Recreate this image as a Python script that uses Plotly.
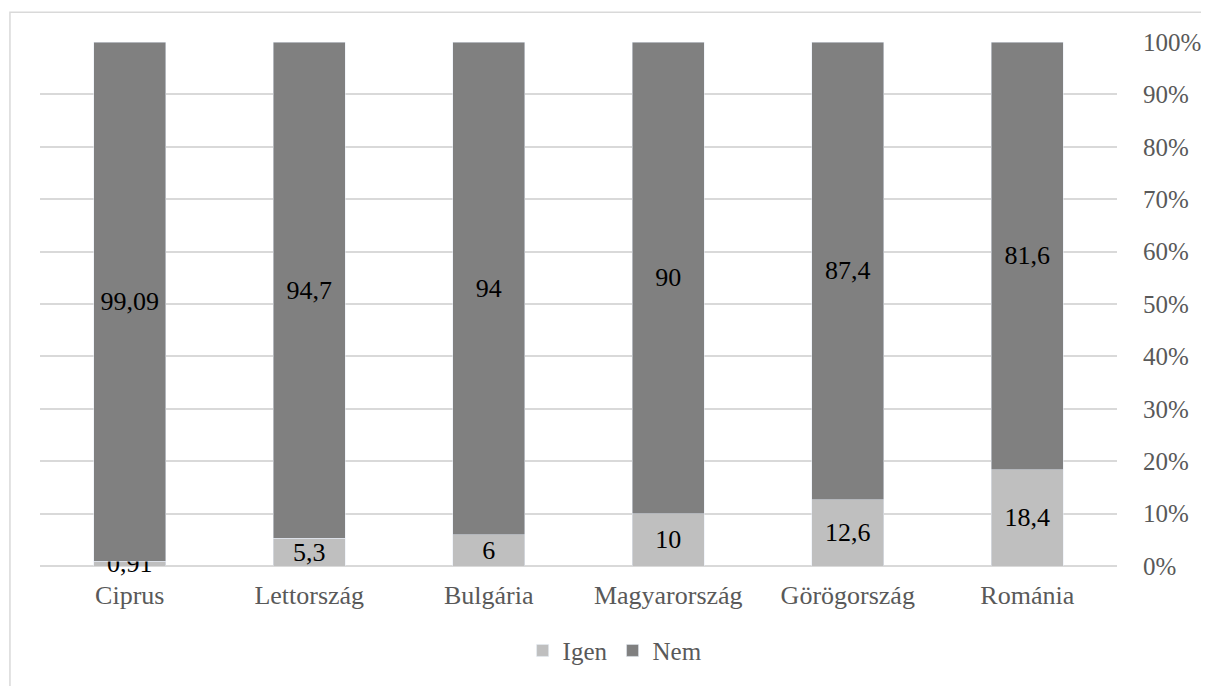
import plotly.graph_objects as go

categories = ["Ciprus", "Lettország", "Bulgária", "Magyarország", "Görögország", "Románia"]
igen = [0.91, 5.3, 6, 10, 12.6, 18.4]
nem = [99.09, 94.7, 94, 90, 87.4, 81.6]
tick_vals = [0, 10, 20, 30, 40, 50, 60, 70, 80, 90, 100]
tick_text = [f"{v}%" for v in tick_vals]

def fmt(v):
    return f"{v:g}".replace(".", ",")

FONT = "Liberation Serif, Times New Roman, serif"

fig = go.Figure()
fig.add_trace(go.Bar(name="Igen", x=categories, y=igen, marker_color="#BFBFBF",
                     text=[fmt(v) for v in igen], textposition="inside", textangle=0,
                     insidetextanchor="middle", constraintext="none",
                     textfont=dict(family=FONT, size=26, color="#000000"),
                     cliponaxis=False))
fig.add_trace(go.Bar(name="Nem", x=categories, y=nem, marker_color="#808080",
                     text=[fmt(v) for v in nem], textposition="inside", textangle=0,
                     insidetextanchor="middle", constraintext="none",
                     textfont=dict(family=FONT, size=26, color="#000000")))

fig.update_layout(
    barmode="stack",
    bargap=0.6,
    width=1201, height=678,
    margin=dict(l=32, r=92, t=34, b=118),
    paper_bgcolor="white", plot_bgcolor="white",
    font=dict(family=FONT, size=25, color="#595959"),
    showlegend=True,
    legend=dict(orientation="h", x=0.534, xanchor="center", y=-0.1616, yanchor="middle",
                font=dict(family=FONT, size=25, color="#595959"),
                itemwidth=30, traceorder="normal"),
    xaxis=dict(showgrid=False, showline=False, ticks="outside", ticklen=6, automargin=False,
               tickcolor="rgba(0,0,0,0)", tickfont=dict(family=FONT, size=26, color="#595959")),
    yaxis=dict(side="right", range=[0, 100], tickvals=tick_vals, ticktext=tick_text,
               automargin=False,
               showgrid=True, gridcolor="#D9D9D9", gridwidth=1.5,
               zeroline=True, zerolinecolor="#D9D9D9", zerolinewidth=1.5,
               ticks="outside", ticklen=20, tickcolor="rgba(0,0,0,0)",
               tickfont=dict(family=FONT, size=25, color="#595959")),
    shapes=[dict(type="rect", xref="paper", yref="paper",
                 x0=-0.0279, x1=1.0845, y0=-0.24, y1=1.057,
                 line=dict(color="#D9D9D9", width=1.5), fillcolor="rgba(0,0,0,0)")],
)

fig.write_html("out.html")
